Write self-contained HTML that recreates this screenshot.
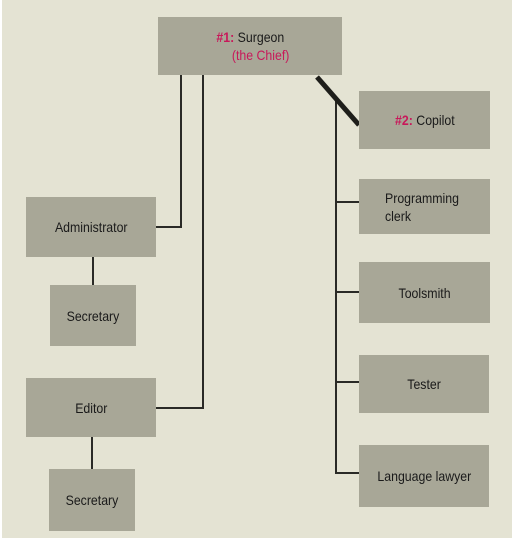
<!DOCTYPE html>
<html><head><meta charset="utf-8"><style>
body{margin:0;width:514px;height:541px;background:#fff;overflow:hidden;font-family:"Liberation Sans",sans-serif}
#page{position:absolute;left:2px;top:0;width:510px;height:538px;background:#e4e3d3}
.box{position:absolute;background:#a8a797;display:flex;align-items:center;justify-content:center;text-align:center;font-size:14px;color:#1a1a1a;line-height:18px}
.box>div,.box>span{display:inline-block;transform:scaleX(0.88)}
.ln{position:absolute;background:#2a2a26}
.r{color:#c8185a;font-weight:bold}
.rc{color:#c8185a}
</style></head><body>
<div id="page"></div>
<div class="ln" style="left:180px;top:75px;width:2px;height:153px"></div>
<div class="ln" style="left:156px;top:226px;width:26px;height:2px"></div>
<div class="ln" style="left:202px;top:75px;width:2px;height:334px"></div>
<div class="ln" style="left:156px;top:407px;width:48px;height:2px"></div>
<div class="ln" style="left:92px;top:257px;width:2px;height:28px"></div>
<div class="ln" style="left:91px;top:437px;width:2px;height:32px"></div>
<div class="ln" style="left:335px;top:100px;width:2px;height:374px"></div>
<div class="ln" style="left:335px;top:201px;width:24px;height:2px"></div>
<div class="ln" style="left:335px;top:291px;width:24px;height:2px"></div>
<div class="ln" style="left:335px;top:381px;width:24px;height:2px"></div>
<div class="ln" style="left:335px;top:472px;width:24px;height:2px"></div>
<svg style="position:absolute;left:0;top:0" width="514" height="541"><line x1="317" y1="77" x2="359" y2="125" stroke="#1e1e1a" stroke-width="5"/></svg>
<div class="box" style="left:158px;top:17px;width:184px;height:58px"><div><span class="r">#1:</span> Surgeon<br><span class="rc">&nbsp;&nbsp;&nbsp;&nbsp;&nbsp;&nbsp;(the Chief)</span></div></div>
<div class="box" style="left:359px;top:91px;width:131px;height:58px"><div><span class="r">#2:</span> Copilot</div></div>
<div class="box" style="left:359px;top:179px;width:131px;height:55px;justify-content:flex-start"><div style="text-align:left;margin-left:26px;transform-origin:left">Programming<br>clerk</div></div>
<div class="box" style="left:359px;top:262px;width:131px;height:61px"><span>Toolsmith</span></div>
<div class="box" style="left:359px;top:355px;width:130px;height:58px"><span>Tester</span></div>
<div class="box" style="left:359px;top:445px;width:130px;height:62px"><span>Language lawyer</span></div>
<div class="box" style="left:26px;top:197px;width:130px;height:60px"><span>Administrator</span></div>
<div class="box" style="left:50px;top:285px;width:86px;height:61px"><span>Secretary</span></div>
<div class="box" style="left:26px;top:378px;width:130px;height:59px"><span>Editor</span></div>
<div class="box" style="left:49px;top:469px;width:86px;height:62px"><span>Secretary</span></div>
</body></html>
